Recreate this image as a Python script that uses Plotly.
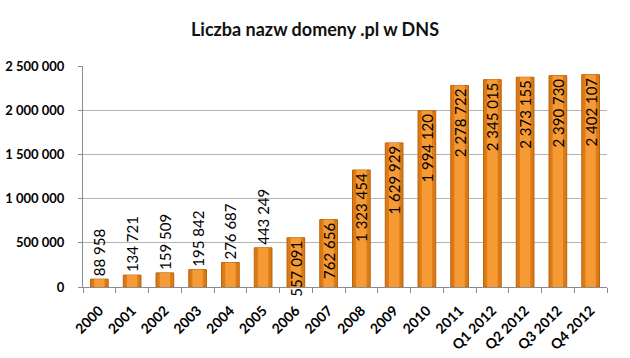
import plotly.graph_objects as go

categories = ["2000", "2001", "2002", "2003", "2004", "2005", "2006", "2007",
              "2008", "2009", "2010", "2011", "Q1 2012", "Q2 2012", "Q3 2012", "Q4 2012"]
domains = [88958, 134721, 159509, 195842, 276687, 443249, 557091, 762656,
           1323454, 1629929, 1994120, 2278722, 2345015, 2373155, 2390730, 2402107]
label_positions = ["outside"] * 6 + ["inside"] * 10

FONT = "Lato, 'Open Sans', sans-serif"
n = len(categories)

fig = go.Figure()
# outer (edge) part of the bars
fig.add_trace(go.Bar(
    x=categories, y=domains,
    width=[0.54] * n,
    marker=dict(color="#DC7A16", line=dict(color="#B8620C", width=1)),
    hoverinfo="skip",
))
# inner, lighter part of the bars, carrying the labels
fig.add_trace(go.Bar(
    x=categories, y=domains,
    width=[0.32] * n,
    marker=dict(color="#F59A34", line=dict(width=0)),
    texttemplate="%{y:,d}",
    textposition=label_positions,
    textangle=-90,
    insidetextanchor="end",
    constraintext="none",
    cliponaxis=False,
    textfont=dict(family=FONT, size=15, color="black"),
    outsidetextfont=dict(family=FONT, size=15, color="black"),
    insidetextfont=dict(family=FONT, size=15, color="black"),
    hoverinfo="skip",
))

fig.update_layout(
    width=630, height=358,
    margin=dict(l=83, r=23, t=66, b=71),
    paper_bgcolor="white",
    plot_bgcolor="white",
    separators=", ",
    barmode="overlay",
    showlegend=False,
    uniformtext=dict(minsize=15, mode="show"),
    title=dict(text="<b>Liczba nazw domeny .pl w DNS</b>", x=0.5, xanchor="center",
               y=1 - 30 / 358, yanchor="middle",
               font=dict(family=FONT, size=18, color="#111111")),
    xaxis=dict(
        type="category",
        automargin=False,
        tickangle=-45,
        tickfont=dict(family=FONT, size=14, color="black", weight="bold"),
        ticklabelstandoff=9,
        showline=True, linecolor="#8C8C8C", linewidth=1,
        ticks="outside", tickson="boundaries", ticklen=5, tickcolor="#8C8C8C",
        showgrid=False,
    ),
    yaxis=dict(
        range=[0, 2500000],
        automargin=False,
        dtick=500000,
        tickformat=",d",
        tickfont=dict(family=FONT, size=13, color="black", weight="bold"),
        ticklabelstandoff=11,
        showline=True, linecolor="#8C8C8C", linewidth=1,
        ticks="outside", ticklen=4, tickcolor="#8C8C8C",
        showgrid=True, gridcolor="#B4B4B4", gridwidth=1,
        zeroline=False,
    ),
)

fig.write_html("out.html",
               config={"displayModeBar": False},
               post_script="document.body.style.margin='0';document.body.style.padding='0';")
